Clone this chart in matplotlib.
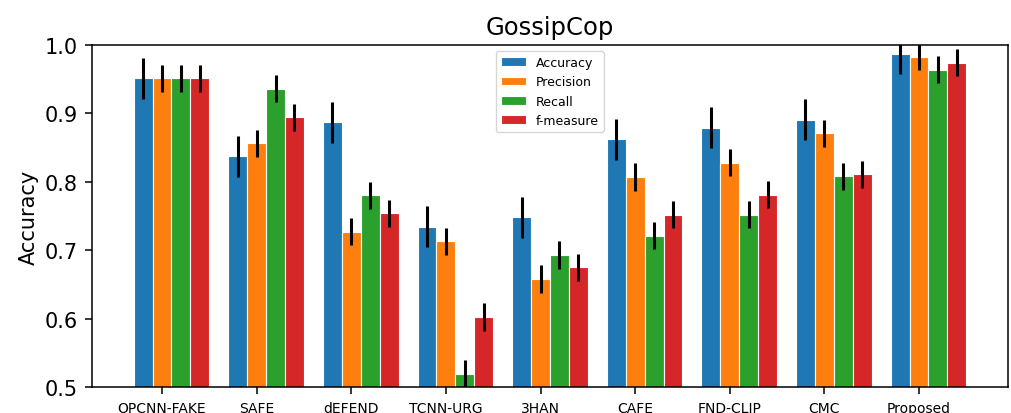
import matplotlib.pyplot as plt
import numpy as np

methods = ["OPCNN-FAKE", "SAFE", "dEFEND", "TCNN-URG", "3HAN",
           "CAFE", "FND-CLIP", "CMC", "Proposed"]
metrics = ["Accuracy", "Precision", "Recall", "f-measure"]

accuracy = [0.951, 0.837, 0.887, 0.734, 0.748, 0.862, 0.879, 0.891, 0.987]
precision = [0.951, 0.856, 0.727, 0.713, 0.658, 0.807, 0.828, 0.871, 0.983]
recall = [0.951, 0.936, 0.780, 0.519, 0.693, 0.721, 0.752, 0.808, 0.964]
fmeasure = [0.951, 0.894, 0.754, 0.602, 0.675, 0.752, 0.781, 0.811, 0.974]

# error bar half-lengths per metric
err = [0.03, 0.02, 0.02, 0.02]

colors = ["#1f77b4", "#ff7f0e", "#2ca02c", "#d62728"]

fig = plt.figure(figsize=(10.11, 4.14), dpi=100)
ax = fig.add_axes([0.091, 0.063, 0.906, 0.826])

x = np.arange(len(methods))
w = 0.2
series = [accuracy, precision, recall, fmeasure]
for i, vals in enumerate(series):
    ax.bar(x + (i - 1) * w, vals, w, yerr=err[i], color=colors[i],
           edgecolor="white", linewidth=0.8, label=metrics[i],
           error_kw=dict(elinewidth=2.2, ecolor="black", capsize=0))

ax.set_ylim(0.5, 1.0)
ax.set_xticks(x)
ax.set_xticklabels(methods, fontsize=10)
ax.tick_params(axis="y", labelsize=15)
ax.tick_params(length=5, pad=5, width=1.1)
for s in ax.spines.values():
    s.set_linewidth(1.1)
ax.set_ylabel("Accuracy", fontsize=15)
ax.set_title("GossipCop", fontsize=17.5, pad=8)
ax.legend(loc="upper center", fontsize=9)

fig.savefig("out.png", dpi=100)
